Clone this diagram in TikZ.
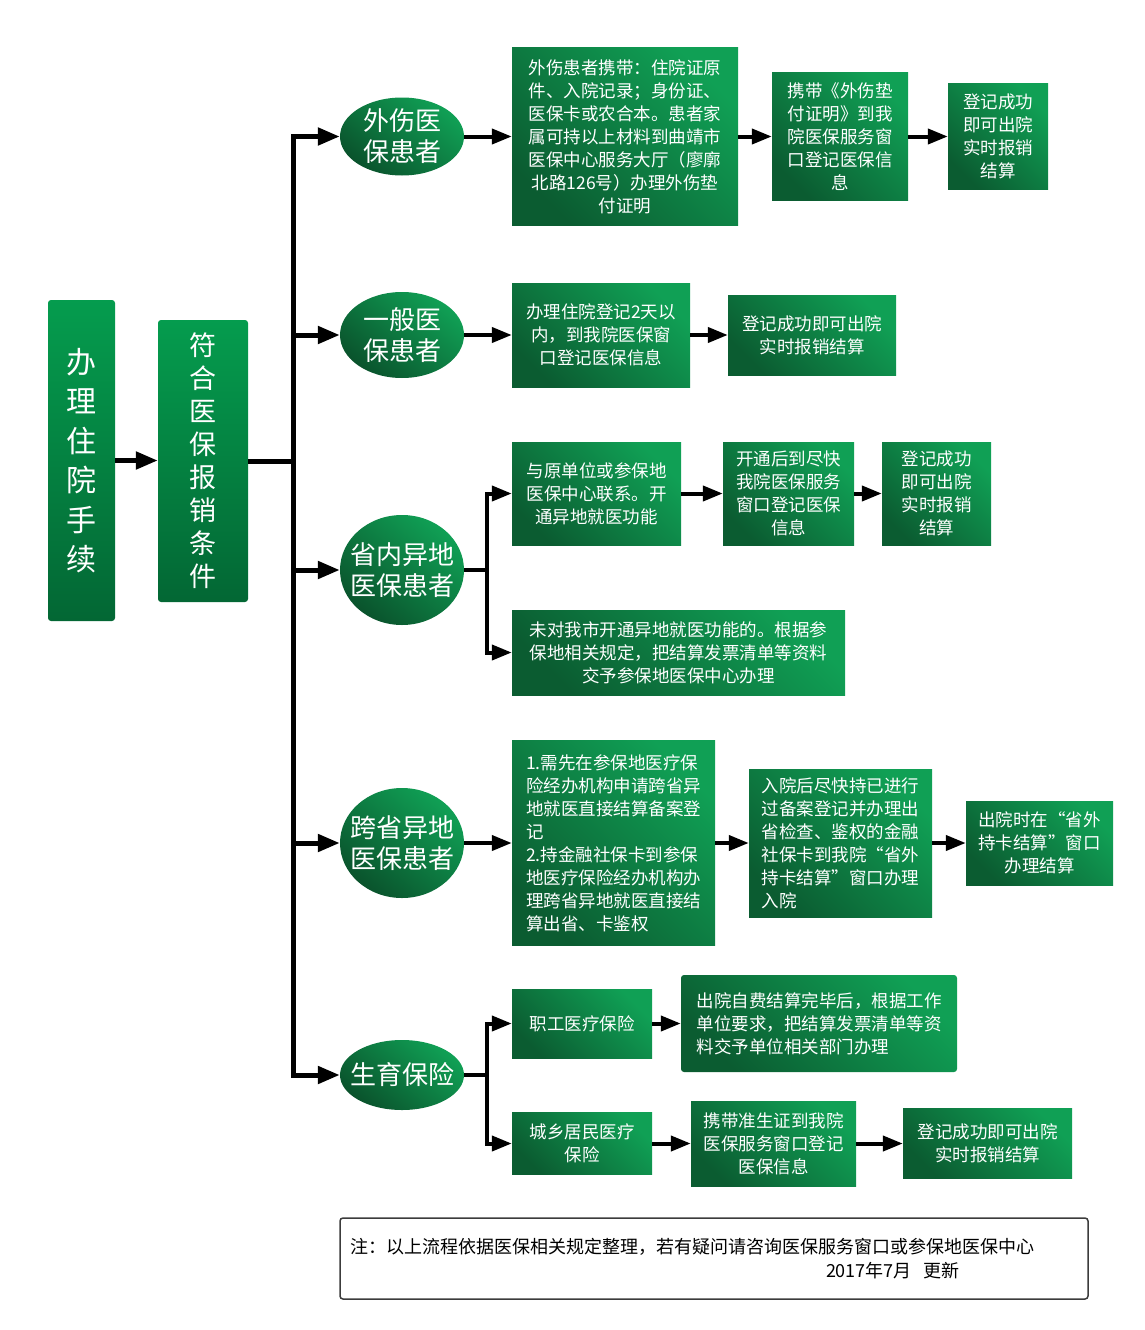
\documentclass[tikz,border=0pt]{standalone}
\usepackage{fontspec}
\setmainfont{Noto Sans CJK SC}
\usepackage{tikz}
\usetikzlibrary{arrows.meta, shapes.geometric}

\definecolor{gtop}{RGB}{16,160,85}
\definecolor{gbot}{RGB}{11,92,49}
\definecolor{vtop}{RGB}{5,156,78}
\definecolor{vbot}{RGB}{3,103,52}
\definecolor{notegray}{RGB}{60,60,60}

\begin{document}
\begin{tikzpicture}[
		x=1pt, y=-1pt,
		gbox/.style={top color=gtop, bottom color=gbot, shading angle=-45, text=white,
				inner sep=0pt, align=center, font=\fontsize{17.5}{23}\selectfont},
		vbox/.style={top color=vtop, bottom color=vbot, rounded corners=3pt, text=white,
				inner sep=0pt, align=center},
		kind/.style={ellipse, top color=gtop, bottom color=gbot!90!black, shading angle=-40,
				text=white, inner xsep=-12pt, inner ysep=-4pt, minimum width=124pt, align=center,
				font=\fontsize{26}{31}\selectfont},
		arr/.style={line width=4pt, -{Triangle[length=20pt, width=15pt]}},
		bigarr/.style={line width=5pt, -{Triangle[length=22pt, width=17pt]}},
		link/.style={line width=4pt},
		trunk/.style={line width=5pt}
	]

	\useasboundingbox (0,0) rectangle (1144,1330);

	% left column
	\node[vbox, minimum width=67pt, minimum height=321pt, font=\fontsize{30}{39.5}\selectfont]
		(hosp) at (81.5,460.5) {办\\理\\住\\院\\手\\续};
	\node[vbox, minimum width=90pt, minimum height=282pt, font=\fontsize{27}{33}\selectfont]
		(cond) at (203,461) {符\\合\\医\\保\\报\\销\\条\\件};

	% patient kinds
	\node[kind, minimum height=78pt] (e1) at (402,136.5) {外伤医\\保患者};
	\node[kind, minimum height=86pt] (e2) at (402,335) {一般医\\保患者};
	\node[kind, minimum height=110pt] (e3) at (402,570) {省内异地\\医保患者};
	\node[kind, minimum height=110pt] (e4) at (402,843) {跨省异地\\医保患者};
	\node[kind, minimum height=70pt] (e5) at (402,1075) {生育保险};

	% injury
	\node[gbox, minimum width=226pt, minimum height=177pt] (w1) at (625,136.5)
		{外伤患者携带：住院证原\\件、入院记录；身份证、\\医保卡或农合本。患者家\\属可持以上材料到曲靖市\\医保中心服务大厅（廖廓\\北路126号）办理外伤垫\\付证明};
	\node[gbox, minimum width=136pt, minimum height=127pt] (w2) at (840,136.5)
		{携带《外伤垫\\付证明》到我\\院医保服务窗\\口登记医保信\\息};
	\node[gbox, minimum width=100pt, minimum height=106pt] (w3) at (998,136.5)
		{登记成功\\即可出院\\实时报销\\结算};

	% general
	\node[gbox, minimum width=178pt, minimum height=104pt] (g1) at (601,335)
		{办理住院登记2天以\\内，到我院医保窗\\口登记医保信息};
	\node[gbox, minimum width=168pt, minimum height=80pt] (g2) at (812,335)
		{登记成功即可出院\\实时报销结算};

	% in province
	\node[gbox, minimum width=169pt, minimum height=103pt] (s1) at (596.5,493.5)
		{与原单位或参保地\\医保中心联系。开\\通异地就医功能};
	\node[gbox, minimum width=131pt, minimum height=103pt] (s2) at (788.5,493.5)
		{开通后到尽快\\我院医保服务\\窗口登记医保\\信息};
	\node[gbox, minimum width=109pt, minimum height=103pt] (s3) at (936.5,493.5)
		{登记成功\\即可出院\\实时报销\\结算};
	\node[gbox, minimum width=333pt, minimum height=85pt] (s4) at (678.5,652.5)
		{未对我市开通异地就医功能的。根据参\\保地相关规定，把结算发票清单等资料\\交予参保地医保中心办理};

	% cross province
	\node[gbox, align=left, minimum width=203pt, minimum height=205pt] (k1) at (613.5,843)
		{1.需先在参保地医疗保\\险经办机构申请跨省异\\地就医直接结算备案登\\记\\2.持金融社保卡到参保\\地医疗保险经办机构办\\理跨省异地就医直接结\\算出省、卡鉴权};
	\node[gbox, align=left, minimum width=183pt, minimum height=148pt] (k2) at (840.5,843)
		{入院后尽快持已进行\\过备案登记并办理出\\省检查、鉴权的金融\\社保卡到我院“省外\\持卡结算”窗口办理\\入院};
	\node[gbox, minimum width=147pt, minimum height=84pt] (k3) at (1039.5,843)
		{出院时在“省外\\持卡结算”窗口\\办理结算};

	% maternity
	\node[gbox, minimum width=140pt, minimum height=69pt] (b1) at (582,1023.5) {职工医疗保险};
	\node[gbox, align=left, rounded corners=3pt, minimum width=276pt, minimum height=97pt] (b2) at (819,1023.5)
		{出院自费结算完毕后，根据工作\\单位要求，把结算发票清单等资\\料交予单位相关部门办理};
	\node[gbox, minimum width=140pt, minimum height=62pt] (b3) at (582,1143.5) {城乡居民医疗\\保险};
	\node[gbox, minimum width=165pt, minimum height=85pt] (b4) at (773.5,1143.5)
		{携带准生证到我院\\医保服务窗口登记\\医保信息};
	\node[gbox, minimum width=169pt, minimum height=70pt] (b5) at (987.5,1143.5)
		{登记成功即可出院\\实时报销结算};

	% note
	\node[draw=notegray, line width=1.5pt, rounded corners=3pt, minimum width=748pt, minimum height=81pt,
		text width=728pt, align=left, font=\fontsize{18}{24}\selectfont] (note) at (714,1258.5)
		{注：以上流程依据医保相关规定整理，若有疑问请咨询医保服务窗口或参保地医保中心\\
			\hspace*{476pt}2017年7月\ \ 更新};

	% connectors
	\coordinate (tr) at (293,0);
	\coordinate (br) at (487,0);

	\draw[bigarr] (hosp.east) -- (hosp.east -| cond.west);
	\draw[trunk] (cond.east) -- (tr |- cond);
	\draw[trunk, line cap=rect] (tr |- e1) -- (tr |- e5);

	\foreach \e in {e1, e2, e3, e4, e5} {
			\draw[bigarr] (tr |- \e) -- (\e.west);
		}

	\foreach \a/\b in {e1/w1, w1/w2, w2/w3, e2/g1, g1/g2, s1/s2, s2/s3, e4/k1, k1/k2, k2/k3, b1/b2, b3/b4, b4/b5} {
			\draw[arr] (\a.east) -- (\a.east -| \b.west);
		}

	\foreach \e/\u/\d in {e3/s1/s4, e5/b1/b3} {
			\draw[link] (\e.east) -- (br |- \e);
			\draw[link, line cap=rect] (br |- \u) -- (br |- \d);
			\draw[arr] (br |- \u) -- (\u.west);
			\draw[arr] (br |- \d) -- (\d.west);
		}

\end{tikzpicture}
\end{document}
